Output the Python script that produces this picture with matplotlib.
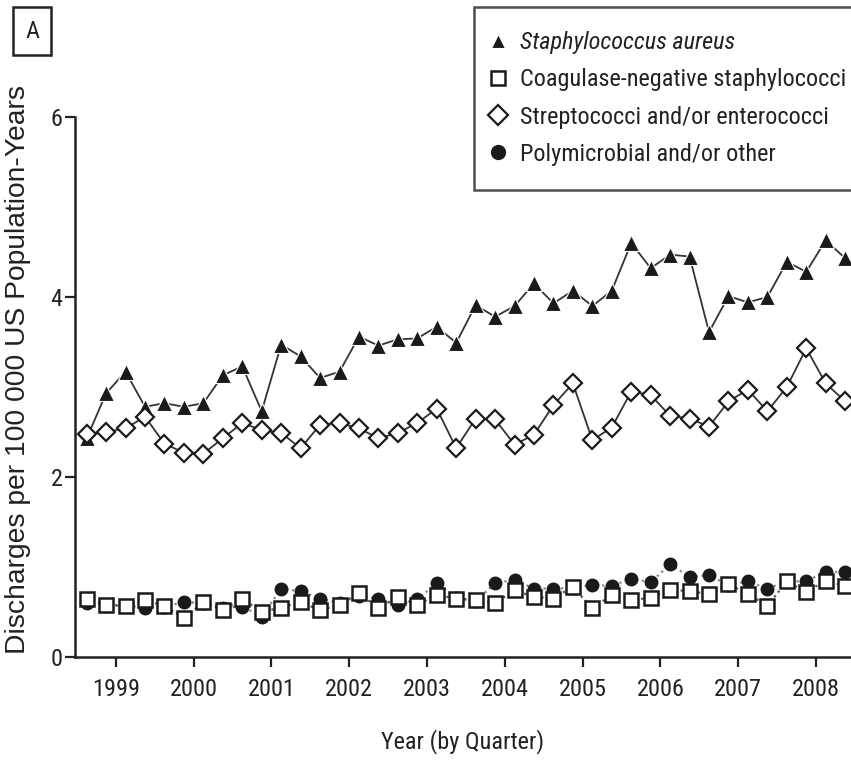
import numpy as np
import matplotlib
matplotlib.use("Agg")
import matplotlib.pyplot as plt
from matplotlib import font_manager as fm
from matplotlib.font_manager import FontProperties


def pick_condensed():
    cands = []
    for f in fm.fontManager.ttflist:
        nm = f.name
        if "Mono" in nm or "Serif" in nm or "CJK" in nm:
            continue
        if ("Condensed" in nm or "Narrow" in nm or
                str(f.stretch) in ("condensed", "semi-condensed", "extra-condensed")):
            cands.append(f)
    reg = [f for f in cands if f.style == "normal" and f.weight in (400, "normal", "regular")]
    ita = [f for f in cands if f.style in ("italic", "oblique") and f.weight in (400, "normal", "regular")]
    def pref(lst):
        order = ["Liberation Sans Narrow", "Roboto Condensed", "Open Sans Condensed",
                 "DejaVu Sans"]
        for o in order:
            for f in lst:
                if f.name == o:
                    return f
        return lst[0] if lst else None
    r = pref(reg)
    i = None
    if r is not None:
        same = [f for f in ita if f.name == r.name]
        i = same[0] if same else None
    return r, i


reg_f, ita_f = pick_condensed()
if reg_f is not None:
    def FP(size, italic=False):
        if italic and ita_f is not None:
            return FontProperties(fname=ita_f.fname, size=size)
        if italic:
            return FontProperties(fname=reg_f.fname, size=size, style="italic")
        return FontProperties(fname=reg_f.fname, size=size)
    SZ = 17.5
else:
    def FP(size, italic=False):
        return FontProperties(family="Liberation Sans", size=size,
                              style="italic" if italic else "normal")
    SZ = 15

years = ["1999", "2000", "2001", "2002", "2003", "2004", "2005", "2006", "2007", "2008"]

staph_aureus = [2.43, 2.93, 3.17, 2.78, 2.82, 2.78, 2.82, 3.13, 3.23, 2.73,
                3.47, 3.34, 3.10, 3.17, 3.56, 3.46, 3.53, 3.54, 3.67, 3.49,
                3.91, 3.78, 3.90, 4.15, 3.93, 4.07, 3.90, 4.07, 4.60, 4.32,
                4.47, 4.45, 3.61, 4.01, 3.94, 4.00, 4.39, 4.28, 4.63, 4.43]
coag_neg = [0.65, 0.58, 0.57, 0.63, 0.57, 0.43, 0.61, 0.52, 0.65, 0.50,
            0.55, 0.61, 0.52, 0.58, 0.71, 0.54, 0.67, 0.58, 0.69, 0.65,
            0.63, 0.60, 0.74, 0.67, 0.65, 0.78, 0.54, 0.69, 0.63, 0.66,
            0.75, 0.73, 0.70, 0.81, 0.70, 0.57, 0.84, 0.72, 0.85, 0.79]
strep_entero = [2.48, 2.50, 2.54, 2.67, 2.37, 2.27, 2.26, 2.43, 2.60, 2.52,
                2.49, 2.32, 2.58, 2.60, 2.54, 2.43, 2.49, 2.60, 2.76, 2.32,
                2.65, 2.64, 2.36, 2.47, 2.80, 3.04, 2.41, 2.55, 2.95, 2.91,
                2.68, 2.65, 2.56, 2.84, 2.97, 2.73, 3.00, 3.43, 3.04, 2.84]
polymicrobial = [0.60, 0.57, 0.57, 0.55, 0.56, 0.61, 0.60, 0.55, 0.56, 0.45,
                 0.76, 0.73, 0.65, 0.60, 0.68, 0.65, 0.58, 0.64, 0.82, 0.66,
                 0.62, 0.82, 0.86, 0.76, 0.76, 0.77, 0.80, 0.79, 0.87, 0.83,
                 1.03, 0.89, 0.91, 0.80, 0.84, 0.76, 0.84, 0.84, 0.95, 0.94]

labels = ["Staphylococcus aureus", "Coagulase-negative staphylococci",
          "Streptococci and/or enterococci", "Polymicrobial and/or other"]

W, H = 851, 763
fig = plt.figure(figsize=(W / 100, H / 100), dpi=100)
ax = fig.add_axes([75 / W, 1 - 657 / H, (851 - 75) / W, (657 - 117) / H])

q = np.arange(len(staph_aureus))
ink = "#1a1a1a"

l4, = ax.plot(q, polymicrobial, linestyle=":", color="#888888", lw=1.6,
              marker="o", ms=9, mfc=ink, mec=ink, zorder=2)
l2, = ax.plot(q, coag_neg, linestyle=":", color="#555555", lw=1.6,
              marker="s", ms=9.5, mfc="white", mec=ink, mew=1.8, zorder=3)
l1, = ax.plot(q, staph_aureus, linestyle="-", color="#333333", lw=1.3,
              marker="^", ms=11, mfc=ink, mec="white", mew=0.8, zorder=4)
l3, = ax.plot(q, strep_entero, linestyle="-", color="#333333", lw=1.3,
              marker="D", ms=9, mfc="white", mec=ink, mew=1.6, zorder=5)

ax.set_xlim(-0.6, 39.3)
ax.set_ylim(0, 6)
ax.set_yticks([0, 2, 4, 6])
ax.set_xticks(np.arange(len(years)) * 4 + 1.5)
ax.set_xticklabels(years)
for s in ["top", "right"]:
    ax.spines[s].set_visible(False)
for s in ["left", "bottom"]:
    ax.spines[s].set_linewidth(1.8)
    ax.spines[s].set_color("#222222")
ax.tick_params(axis="both", direction="out", length=7, width=1.6, color="#222222",
               labelcolor="#222222")
ax.tick_params(axis="x", pad=8)
ax.tick_params(axis="y", pad=2)
for t in ax.get_xticklabels() + ax.get_yticklabels():
    t.set_fontproperties(FP(SZ))

ax.set_xlabel("Year (by Quarter)", fontproperties=FP(SZ), color="#222222", labelpad=20)
fig.text(18 / W, 1 - 370 / H, "Discharges per 100 000 US Population-Years",
         rotation=90, ha="center", va="center", family="Liberation Sans",
         fontsize=20.3, color="#222222")

fig.text(32 / W, 1 - 31 / H, "A", ha="center", va="center", fontproperties=FP(SZ),
         color="#222222",
         bbox=dict(boxstyle="square,pad=0.5", fc="white", ec="#222222", lw=1.8))

leg = fig.legend([l1, l2, l3, l4], labels, loc="upper left",
                 bbox_to_anchor=(474 / W, 1 - 7 / H), bbox_transform=fig.transFigure,
                 frameon=True, fancybox=False, edgecolor="#222222",
                 handlelength=0.0, handletextpad=0.9, borderpad=1.0,
                 labelspacing=0.58, borderaxespad=0,
                 prop=FP(SZ))
leg.get_frame().set_linewidth(1.8)
for h in leg.legend_handles:
    h.set_linestyle("none")
    h.set_markersize(10)
leg.get_texts()[0].set_fontproperties(FP(SZ, italic=True))
for t in leg.get_texts():
    t.set_color("#222222")

fig.savefig("out.png", dpi=100)
